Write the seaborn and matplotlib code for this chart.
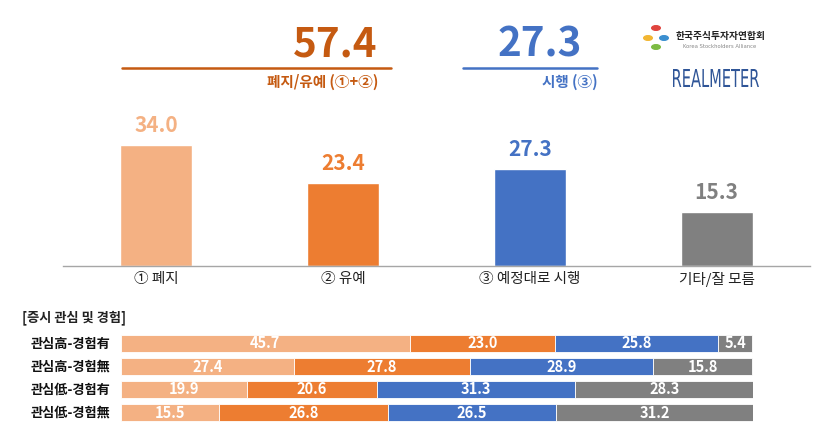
import numpy as np
import pandas as pd
import matplotlib
matplotlib.use("Agg")
import matplotlib.pyplot as plt
import seaborn as sns
from matplotlib.lines import Line2D
from matplotlib.textpath import TextPath
from matplotlib.patches import PathPatch
from matplotlib.font_manager import FontProperties
from matplotlib.transforms import Affine2D

# top chart data
categories = ["① 폐지", "② 유예", "③ 예정대로 시행", "기타/잘 모름"]
values = [34.0, 23.4, 27.3, 15.3]
colors = ["#F4B183", "#ED7D31", "#4472C4", "#808080"]

# summary numbers
sum_stop = 57.4
sum_go = 27.3
sum_stop_label = "폐지/유예 (①+②)"
sum_go_label = "시행 (③)"

# bottom stacked chart data
groups = ["관심高-경험有", "관심高-경험無", "관심低-경험有", "관심低-경험無"]
seg_abolish = [45.7, 27.4, 19.9, 15.5]
seg_delay = [23.0, 27.8, 20.6, 26.8]
seg_execute = [25.8, 28.9, 31.3, 26.5]
seg_other = [5.4, 15.8, 28.3, 31.2]
bottom_title = "[증시 관심 및 경험]"

sns.set_theme(style="white")
plt.rcParams['font.family'] = ['Noto Sans CJK KR', 'DejaVu Sans']

W, H = 825, 441
fig = plt.figure(figsize=(8.25, 4.41), dpi=100)

# ---- top bar chart ----
ax = fig.add_axes([63 / W, 175 / H, 747 / W, 142.2 / H])
df = pd.DataFrame({"cat": categories, "val": values})
sns.barplot(data=df, x="cat", y="val", hue="cat", palette=colors,
            width=0.385, legend=False, ax=ax, saturation=1)
ax.set_xlim(-0.5, 3.5)
ax.set_ylim(0, 40)
for s in ["top", "left", "right"]:
    ax.spines[s].set_visible(False)
ax.spines["bottom"].set_color("#A6A6A6")
ax.spines["bottom"].set_linewidth(1.0)
ax.set_yticks([])
ax.set_xlabel("")
ax.set_ylabel("")
ax.tick_params(axis="x", which="major", length=0, labelsize=10.5, pad=4, colors="#222222")
ax.set_xticks(np.arange(-0.5, 4.0, 1.0), minor=True)
ax.tick_params(axis="x", which="minor", direction="in", length=3, color="#A6A6A6", width=1)
for i, v in enumerate(values):
    ax.text(i, v + 3.6, f"{v:.1f}", ha="center", va="baseline", fontsize=15,
            fontweight="bold", color=colors[i])

# ---- summary headline ----
fig.text(377 / W, 1 - 45 / H, f"{sum_stop:.1f}", ha="right", va="center",
         fontsize=29, fontweight="bold", color="#C55A11")
fig.add_artist(Line2D([122 / W, 391 / W], [1 - 68 / H] * 2, color="#C55A11", lw=1.8))
fig.text(378 / W, 1 - 82 / H, sum_stop_label, ha="right", va="center",
         fontsize=10.5, fontweight="bold", color="#C55A11")

fig.text(582 / W, 1 - 45 / H, f"{sum_go:.1f}", ha="right", va="center",
         fontsize=29, fontweight="bold", color="#4472C4")
fig.add_artist(Line2D([463 / W, 597 / W], [1 - 68 / H] * 2, color="#4472C4", lw=1.8))
fig.text(598 / W, 1 - 82 / H, sum_go_label, ha="right", va="center",
         fontsize=10.5, fontweight="bold", color="#4472C4")

# ---- logo ----
for (lx, ly, lc) in [(656, 28, "#E0443E"), (648, 38, "#F2B632"), (656, 47, "#7DBB42"), (664, 38, "#3B8FD0")]:
    fig.add_artist(plt.Circle((lx / W, 1 - ly / H), 0.0052, transform=fig.transFigure,
                              color=lc))
fig.text(676 / W, 1 - 36 / H, "한국주식투자자연합회", ha="left", va="center",
         fontsize=7, fontweight="bold", color="#222222")
fig.text(720 / W, 1 - 47 / H, "Korea Stockholders Alliance", ha="center", va="center",
         fontsize=3.8, color="#888888", family=["DejaVu Sans"])
# condensed wordmark
tp = TextPath((0, 0), "REALMETER", size=20, prop=FontProperties(family="DejaVu Sans"))
ext = tp.get_extents()
tr = (Affine2D().translate(-ext.x0, -ext.y0)
      .scale(86 / ext.width, 18 / ext.height)
      .translate(673, H - 87))
fig.add_artist(PathPatch(tp, transform=tr, facecolor="#2F5597", edgecolor="none"))

# ---- bottom stacked bars ----
bx = fig.add_axes([121 / W, 17 / H, 632 / W, 92 / H])
segs = [seg_abolish, seg_delay, seg_execute, seg_other]
ypos = np.arange(len(groups))
left = np.zeros(len(groups))
for seg, col in zip(segs, colors):
    seg = np.array(seg)
    bx.barh(ypos, seg, left=left, height=0.76, color=col, edgecolor="white", linewidth=0.6)
    for y, (l, w) in enumerate(zip(left, seg)):
        bx.text(l + w / 2, y, f"{w:.1f}", ha="center", va="center", fontsize=10.5,
                fontweight="bold", color="white")
    left = left + seg
bx.set_xlim(0, 100)
bx.set_ylim(3.5, -0.5)
bx.axis("off")
for y, g in enumerate(groups):
    bx.text(-1.6, y, g, ha="right", va="center", fontsize=9.5, fontweight="bold",
            color="#111111")

fig.text(22 / W, 1 - 318 / H, bottom_title, ha="left", va="center",
         fontsize=9.5, fontweight="bold", color="#222222")

fig.savefig("out.png", dpi=100)
